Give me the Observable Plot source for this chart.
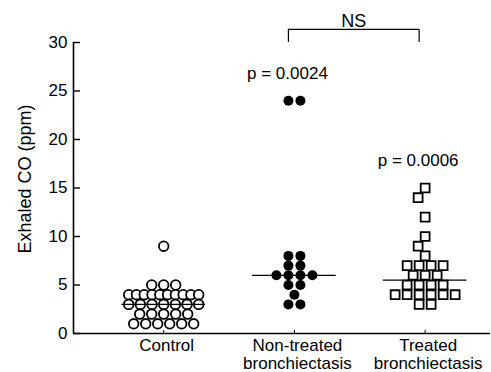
<!DOCTYPE html>
<html><head><meta charset="utf-8">
<script src="https://cdn.jsdelivr.net/npm/d3@7"></script>
<script src="https://cdn.jsdelivr.net/npm/@observablehq/plot@0.6"></script>
<style>body{margin:0;background:#fff} svg{display:block}</style>
</head><body><div id="chart"></div>
<script>
// ---- data ----
const groups = ["Control", "Non-treated\nbronchiectasis", "Treated\nbronchiectasis"];
const controlValues = [9,5,5,5,4,4,4,4,4,4,4,4,4,4,3,3,3,3,3,3,3,2,2,2,2,2,1,1,1,1,1,1];
const nonTreatedValues = [24,24,8,8,7,7,6,6,6,6,5,5,4,3,3];
const treatedValues = [15,14,12,10,9,8,7,7,7,7,6,6,6,5,5,5,5,4,4,4,4,4,4,3,3];
const medians = [3, 6, 5.5];
const pValues = [{g: 1, text: "p = 0.0024"}, {g: 2, text: "p = 0.0006"}];
const comparison = {from: 1, to: 2, text: "NS"};
const yTicks = [0, 5, 10, 15, 20, 25, 30];
const yLabel = "Exhaled CO (ppm)";

// ---- layout helpers ----
const W = 491, H = 372, mL = 73, mR = 1, mT = 42, mB = 39;
const xDomain = [-0.69, 2.5];
const yDomain = [0, 30];
const pxPerUnit = (W - mL - mR) / (xDomain[1] - xDomain[0]);
const pyPerUnit = (H - mT - mB) / (yDomain[1] - yDomain[0]);
const series = [controlValues, nonTreatedValues, treatedValues];

const points = [];
series.forEach((vals, g) => {
  const counts = d3.rollup(vals, v => v.length, v => v);
  const seen = new Map();
  const placed = [];
  vals.forEach(v => {
    const n = counts.get(v);
    const k = seen.get(v) ?? 0; seen.set(v, k + 1);
    const step = n > 1 ? Math.min(12, 70 / (n - 1)) : 0;
    let off = (k - (n - 1) / 2) * step;
    if (n === 1) {
      // simple dodge for isolated points so they do not overlap neighbours
      const cands = [0, -7, 7, -14, 14, -21, 21];
      for (const c of cands) {
        const ok = placed.every(p => Math.hypot(p.off - c, (p.v - v) * pyPerUnit) >= 11);
        if (ok) { off = c; break; }
      }
    }
    placed.push({off, v});
    points.push({g, value: v, xo: g + off / pxPerUnit});
  });
});
const medianRows = medians.map((m, g) => ({g, m}));
const maxRows = pValues.map(d => ({...d, top: d3.max(series[d.g])}));
const bracketTop = yDomain[1] * 1.045;
const font = "Liberation Sans, Arial, Helvetica, sans-serif";

const chart = Plot.plot({
  width: W, height: H,
  marginLeft: mL, marginRight: mR, marginTop: mT, marginBottom: mB,
  style: {fontFamily: font, fontSize: "17px", color: "black", background: "white"},
  x: {domain: xDomain, axis: null},
  y: {domain: yDomain, axis: null},
  marks: [
    // axes lines
    Plot.ruleY([0], {stroke: "black", strokeWidth: 1.6}),
    Plot.ruleX([xDomain[0]], {y1: yDomain[0], y2: yDomain[1], stroke: "black", strokeWidth: 1.6}),
    // y tick labels
    Plot.axisY({ticks: yTicks, tickSize: 0, tickPadding: 6, fontSize: 17, label: null}),
    // inward y ticks
    Plot.axisY({ticks: yTicks, tickSize: 7, dx: 7, tickFormat: () => "", label: null, strokeWidth: 1.4}),
    // y label
    Plot.text([yLabel], {frameAnchor: "left", textAnchor: "middle", rotate: -90, dx: -48, dy: -9, fontSize: 18, fill: "black"}),
    // x labels
    Plot.axisX({ticks: [0, 1, 2], tickSize: 0, tickPadding: 5, dx: 3, tickFormat: i => groups[i], fontSize: 17, lineHeight: 1.05, label: null}),
    Plot.axisX({ticks: [0, 1, 2], tickSize: 3, dy: -3, tickFormat: () => "", label: null}),
    // points
    Plot.dot(points.filter(d => d.g === 0), {x: "xo", y: "value", r: 4.8, fill: "white", stroke: "black", strokeWidth: 1.8}),
    Plot.dot(points.filter(d => d.g === 1), {x: "xo", y: "value", r: 5, fill: "black", stroke: "black", strokeWidth: 0}),
    Plot.dot(points.filter(d => d.g === 2), {x: "xo", y: "value", r: 5, symbol: "square", fill: "white", stroke: "black", strokeWidth: 1.8}),
    // medians
    Plot.ruleY(medianRows, {y: "m", x1: d => d.g - 0.32, x2: d => d.g + 0.32, stroke: "black", strokeWidth: 1.3}),
    // p-values
    Plot.text(maxRows, {x: "g", y: "top", text: "text", dx: -7, dy: -27, fontSize: 17, fill: "black"}),
    // NS bracket
    Plot.ruleX([comparison.from, comparison.to], {y1: yDomain[1], y2: bracketTop, dx: -6, stroke: "black", strokeWidth: 1.2}),
    Plot.ruleY([bracketTop], {x1: comparison.from, x2: comparison.to, dx: -6, stroke: "black", strokeWidth: 1.2}),
    Plot.text([comparison], {x: d => (d.from + d.to) / 2, y: bracketTop, text: "text", dx: -6, dy: -2, lineAnchor: "bottom", fontSize: 18, fill: "black"})
  ]
});
document.getElementById("chart").appendChild(chart);
</script>
</body></html>
